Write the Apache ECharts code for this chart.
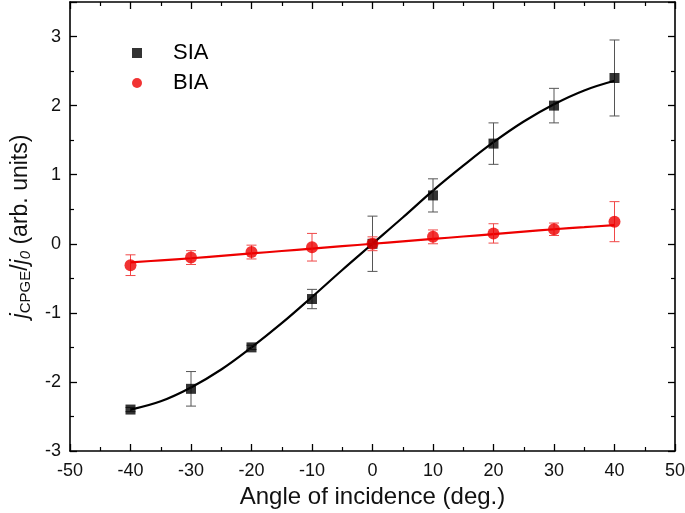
<!DOCTYPE html>
<html><head><meta charset="utf-8">
<script src="https://cdn.jsdelivr.net/npm/echarts@6/dist/echarts.min.js"></script>
<style>html,body{margin:0;padding:0;background:#fff}#c{width:685px;height:513px}</style>
</head><body><div id="c"></div>
<script>
const angles = [-40,-30,-20,-10,0,10,20,30,40];
const siaVals = [-2.4,-2.1,-1.5,-0.8,0,0.7,1.45,2.0,2.4];
const siaErr  = [0.03,0.25,0.03,0.14,0.4,0.24,0.3,0.25,0.55];
const biaVals = [-0.31,-0.2,-0.12,-0.05,0,0.1,0.15,0.21,0.32];
const biaErr  = [0.15,0.1,0.1,0.2,0.1,0.1,0.14,0.09,0.29];
const fitAngles = [-40,-35,-30,-25,-20,-15,-10,-5,0,5,10,15,20,25,30,35,40];
const siaFit = [-2.4,-2.28,-2.08,-1.82,-1.5,-1.15,-0.77,-0.38,0,0.38,0.77,1.13,1.47,1.77,2.02,2.22,2.36];
const biaFit = [-0.27,-0.24,-0.21,-0.175,-0.14,-0.105,-0.07,-0.035,0,0.035,0.07,0.105,0.14,0.175,0.21,0.24,0.27];

const FONT = '"Liberation Sans", Arial, sans-serif';
const chart = echarts.init(document.getElementById('c'), null, {renderer:'canvas'});

function errData(vals, errs){ return angles.map((a,i)=>[a, vals[i]-errs[i], vals[i]+errs[i]]); }
function errSeries(vals, errs, color){
  return {
    type:'custom', silent:true, z:3,
    data: errData(vals, errs),
    encode:{x:0, y:[1,2]},
    renderItem: function(params, api){
      const lo = api.coord([api.value(0), api.value(1)]);
      const hi = api.coord([api.value(0), api.value(2)]);
      const w = 5;
      const st = {stroke: color, lineWidth: 1};
      return {type:'group', children:[
        {type:'line', shape:{x1:lo[0], y1:lo[1], x2:hi[0], y2:hi[1]}, style:st},
        {type:'line', shape:{x1:lo[0]-w, y1:lo[1], x2:lo[0]+w, y2:lo[1]}, style:st},
        {type:'line', shape:{x1:hi[0]-w, y1:hi[1], x2:hi[0]+w, y2:hi[1]}, style:st}
      ]};
    }
  };
}

const axLine = {show:true, onZero:false, lineStyle:{color:'#000', width:1.6}};
const tick = {inside:true, length:7, lineStyle:{color:'#000', width:1.3}};
const minor = {show:true, splitNumber:2, length:4, lineStyle:{color:'#000', width:1.2}};
const option = {
  animation:false,
  backgroundColor:'#fff',
  textStyle:{fontFamily:FONT},
  grid:{left:70, right:10, top:2, bottom:62, containLabel:false, outerBoundsMode:'none'},
  legend:{
    left:127, top:37, orient:'vertical', itemGap:8,
    itemWidth:10, itemHeight:10,
    textStyle:{fontFamily:FONT, fontSize:22, color:'#000', padding:[0,0,0,26]},
    data:[{name:'SIA', icon:'rect'},{name:'BIA', icon:'circle'}]
  },
  xAxis:[{
    type:'value', min:-50, max:50, interval:10, position:'bottom',
    name:'Angle of incidence (deg.)', nameLocation:'middle', nameGap:34,
    nameTextStyle:{fontFamily:FONT, fontSize:24, color:'#111'},
    axisLine:axLine, splitLine:{show:false}, axisTick:tick, minorTick:minor,
    axisLabel:{fontFamily:FONT, fontSize:18, color:'#111', margin:11}
  },{
    type:'value', min:-50, max:50, interval:10, position:'top',
    axisLine:axLine, splitLine:{show:false}, axisTick:tick, minorTick:minor,
    axisLabel:{show:false}
  }],
  yAxis:[{
    type:'value', min:-3, max:3.5, interval:1, position:'left',
    name:'{i|j}{sub|CPGE}{n|/}{i|j}{subi|0}{n| (arb. units)}',
    nameLocation:'middle', nameGap:37, nameRotate:90,
    nameTextStyle:{rich:{
      i:{fontFamily:FONT, fontSize:23, fontStyle:'italic', color:'#111'},
      n:{fontFamily:FONT, fontSize:23, color:'#111'},
      sub:{fontFamily:FONT, fontSize:15, color:'#111', verticalAlign:'bottom', padding:[10,0,0,0]},
      subi:{fontFamily:FONT, fontSize:15, fontStyle:'italic', color:'#111', verticalAlign:'bottom', padding:[10,0,0,0]}
    }},
    axisLine:axLine, splitLine:{show:false}, axisTick:tick, minorTick:minor,
    axisLabel:{fontFamily:FONT, fontSize:18, color:'#111', margin:9, showMaxLabel:false}
  },{
    type:'value', min:-3, max:3.5, interval:1, position:'right',
    axisLine:axLine, splitLine:{show:false}, axisTick:tick, minorTick:minor,
    axisLabel:{show:false}
  }],
  series:[
    {type:'line', name:'SIA-fit', data:fitAngles.map((a,i)=>[a,siaFit[i]]), smooth:0.4, showSymbol:false,
     lineStyle:{color:'#000', width:2.2}, z:2, silent:true},
    {type:'line', name:'BIA-fit', data:fitAngles.map((a,i)=>[a,biaFit[i]]), smooth:0.4, showSymbol:false,
     lineStyle:{color:'#ee0000', width:2.2}, z:2, silent:true},
    errSeries(siaVals, siaErr, '#555'),
    errSeries(biaVals, biaErr, '#f04848'),
    {type:'scatter', name:'SIA', data:angles.map((a,i)=>[a,siaVals[i]]), symbol:'rect', symbolSize:10,
     itemStyle:{color:'#000'}, z:5},
    {type:'scatter', name:'BIA', data:angles.map((a,i)=>[a,biaVals[i]]), symbol:'circle', symbolSize:12,
     itemStyle:{color:'#ee0000'}, z:5}
  ]
};
chart.setOption(option);
</script></body></html>
